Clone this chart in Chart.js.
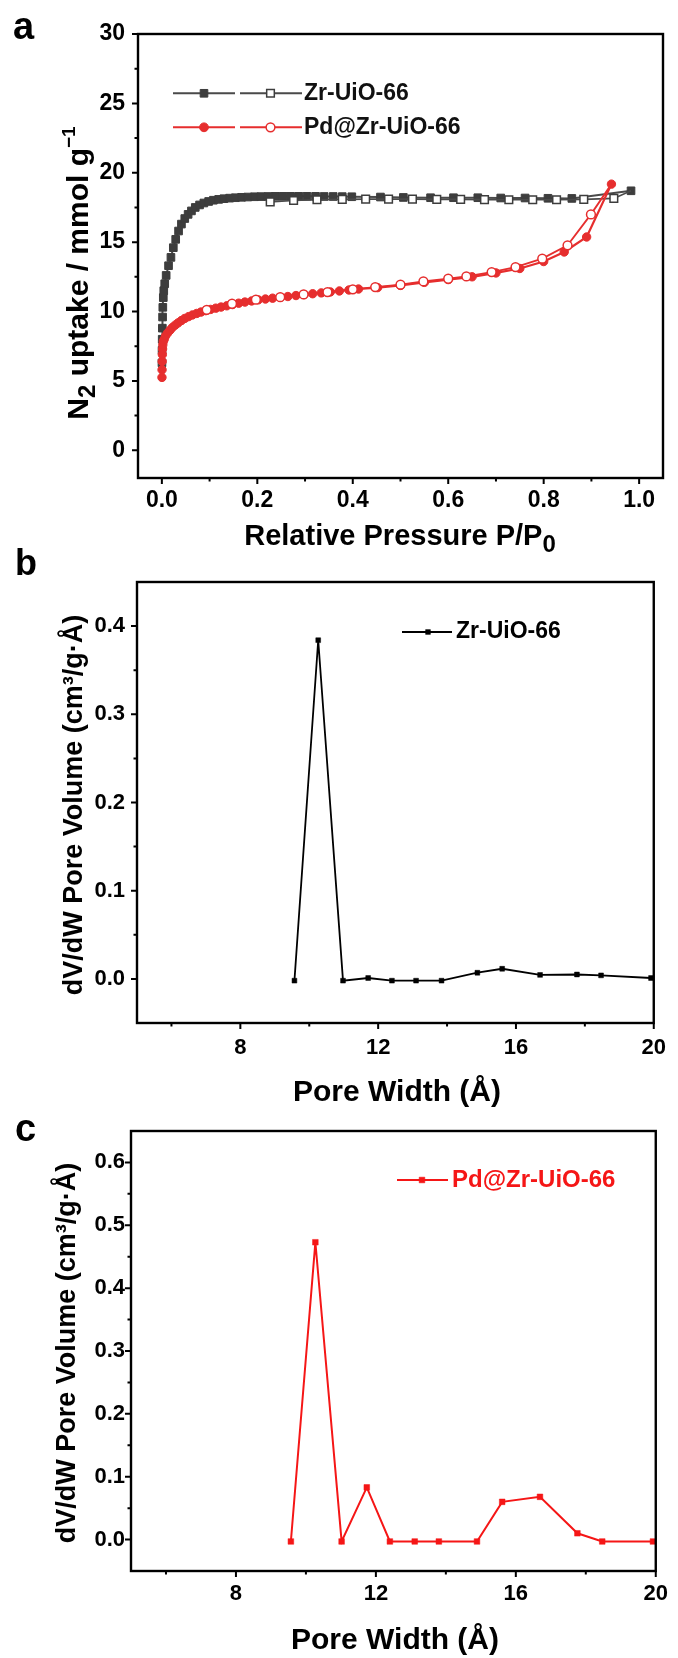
<!DOCTYPE html>
<html><head><meta charset="utf-8">
<script src="https://cdn.jsdelivr.net/npm/chart.js@4.4.1/dist/chart.umd.min.js"></script>
<style>
html,body{margin:0;padding:0;background:#fff;width:678px;height:1658px;overflow:hidden}
canvas{position:absolute;left:0}
</style></head><body>
<canvas id="ca" width="678" height="560" style="top:0px"></canvas>
<canvas id="cb" width="678" height="570" style="top:540px"></canvas>
<canvas id="cc" width="678" height="558" style="top:1100px"></canvas>
<script>
// ---------- DATA ----------
// Panel a: N2 isotherms
const zrAdsP = [0.0002,0.0004,0.0007,0.001,0.0015,0.002,0.003,0.004,0.006,0.009,0.014,0.019,0.024,0.029,0.035,0.041,0.048,0.055,0.062,0.070,0.079,0.088,0.098,0.108,0.119,0.130,0.142,0.154,0.167,0.180,0.194,0.208,0.223,0.238,0.254,0.270,0.287,0.304,0.322,0.340,0.359,0.378,0.398,0.458,0.506,0.563,0.611,0.662,0.710,0.761,0.809,0.859,0.983];
const zrAdsN = [6.3,7.2,8.0,8.8,9.6,10.3,11.0,11.5,12.0,12.6,13.3,13.9,14.6,15.2,15.8,16.3,16.7,17.0,17.25,17.5,17.68,17.82,17.93,18.02,18.08,18.13,18.17,18.2,18.23,18.25,18.27,18.28,18.29,18.3,18.3,18.3,18.3,18.3,18.3,18.29,18.29,18.28,18.27,18.25,18.22,18.2,18.2,18.2,18.18,18.18,18.16,18.15,18.7];
const zrDesP = [0.983,0.947,0.884,0.827,0.777,0.727,0.676,0.626,0.576,0.525,0.475,0.427,0.378,0.325,0.276,0.227];
const zrDesN = [18.7,18.15,18.08,18.05,18.05,18.05,18.06,18.08,18.08,18.1,18.1,18.1,18.08,18.05,18.0,17.9];
const pdAdsP = [0.0002,0.0004,0.0007,0.001,0.0015,0.002,0.003,0.005,0.008,0.012,0.017,0.022,0.028,0.034,0.041,0.048,0.056,0.064,0.073,0.082,0.092,0.102,0.113,0.124,0.136,0.148,0.161,0.174,0.188,0.202,0.217,0.232,0.248,0.264,0.281,0.298,0.316,0.334,0.353,0.372,0.392,0.412,0.452,0.5,0.55,0.6,0.65,0.7,0.75,0.8,0.843,0.89,0.942];
const pdAdsN = [5.25,5.8,6.4,6.9,7.3,7.6,7.85,8.0,8.25,8.45,8.65,8.85,9.02,9.18,9.35,9.5,9.63,9.75,9.86,9.96,10.06,10.15,10.24,10.32,10.41,10.5,10.6,10.68,10.76,10.84,10.9,10.96,11.02,11.08,11.15,11.22,11.28,11.34,11.41,11.48,11.55,11.62,11.72,11.88,12.1,12.3,12.5,12.78,13.1,13.6,14.29,15.37,19.18];
const pdDesP = [0.942,0.899,0.85,0.797,0.741,0.691,0.638,0.6,0.548,0.5,0.447,0.4,0.347,0.297,0.248,0.197,0.147,0.094];
const pdDesN = [19.18,17.0,14.77,13.81,13.2,12.84,12.53,12.36,12.17,11.93,11.76,11.6,11.4,11.23,11.03,10.85,10.56,10.12];
// Panel b: Zr-UiO-66 pore size distribution
const widthB = [9.57,10.26,10.98,11.71,12.40,13.10,13.84,14.88,15.60,16.70,17.77,18.47,19.92];
const volB   = [-0.002,0.384,-0.002,0.001,-0.002,-0.002,-0.002,0.007,0.0115,0.0045,0.005,0.004,0.001];
// Panel c: Pd@Zr-UiO-66 pore size distribution
const widthC = [9.57,10.27,11.02,11.74,12.40,13.11,13.80,14.89,15.61,16.69,17.76,18.47,19.92];
const volC   = [-0.003,0.473,-0.003,0.083,-0.003,-0.003,-0.003,-0.003,0.06,0.068,0.01,-0.003,-0.003];
// Ticks
const xTicksA = [0,0.2,0.4,0.6,0.8,1.0];
const xLabelsA = ['0.0','0.2','0.4','0.6','0.8','1.0'];
const xMinorA = [0.1,0.3,0.5,0.7,0.9];
const yTicksA = [0,5,10,15,20,25,30];
const yLabelsA = ['0','5','10','15','20','25','30'];
const yMinorA = [2.5,7.5,12.5,17.5,22.5,27.5];
const xTicksBC = [8,12,16,20];
const xLabelsBC = ['8','12','16','20'];
const xMinorBC = [6,10,14,18];
const yTicksB = [0,0.1,0.2,0.3,0.4];
const yLabelsB = ['0.0','0.1','0.2','0.3','0.4'];
const yMinorB = [0.05,0.15,0.25,0.35];
const yTicksC = [0,0.1,0.2,0.3,0.4,0.5,0.6];
const yLabelsC = ['0.0','0.1','0.2','0.3','0.4','0.5','0.6'];
const yMinorC = [0.05,0.15,0.25,0.35,0.45,0.55];
// Texts
const seriesZr = 'Zr-UiO-66';
const seriesPd = 'Pd@Zr-UiO-66';

// ---------- STYLE / HELPERS ----------
const FONT = '"Liberation Sans", Arial, Helvetica, sans-serif';
const GRAY = '#3d3d3d', GRAYL = '#4a4a4a', REDA = '#e62e2e', REDC = '#f51616';

function drawRich(ctx, parts, x, y, opt) {
  opt = opt || {};
  ctx.save();
  ctx.translate(x, y);
  if (opt.rotate) ctx.rotate(-Math.PI / 2);
  let w = 0;
  parts.forEach(p => { ctx.font = 'bold ' + p.size + 'px ' + FONT; p.w = ctx.measureText(p.t).width; w += p.w; });
  let cx = opt.align === 'left' ? 0 : -w / 2;
  ctx.textAlign = 'left'; ctx.textBaseline = opt.baseline || 'alphabetic';
  ctx.fillStyle = opt.color || '#000';
  parts.forEach(p => { ctx.font = 'bold ' + p.size + 'px ' + FONT; ctx.fillText(p.t, cx, p.dy || 0); cx += p.w; });
  ctx.restore();
}
function marker(ctx, kind, x, y, r, fill, stroke, lw) {
  ctx.beginPath();
  if (kind === 'rect') { const s = r * Math.SQRT1_2; ctx.rect(x - s, y - s, 2 * s, 2 * s); }
  else ctx.arc(x, y, r, 0, Math.PI * 2);
  ctx.fillStyle = fill; ctx.fill();
  ctx.lineWidth = lw; ctx.strokeStyle = stroke; ctx.stroke();
}
function framePlugin(o) {
  return {
    id: 'frame_' + o.key,
    afterDatasetsDraw(chart) {
      const ctx = chart.ctx, a = chart.chartArea, x = chart.scales.x, y = chart.scales.y;
      ctx.save();
      ctx.strokeStyle = '#000';
      ctx.lineWidth = 2;
      ctx.beginPath();
      o.xMajor.forEach(v => { const p = x.getPixelForValue(v); ctx.moveTo(p, a.bottom); ctx.lineTo(p, a.bottom + 6); });
      o.yMajor.forEach(v => { const p = y.getPixelForValue(v); ctx.moveTo(a.left, p); ctx.lineTo(a.left - 6, p); });
      o.xMinor.forEach(v => { const p = x.getPixelForValue(v); ctx.moveTo(p, a.bottom); ctx.lineTo(p, a.bottom + 3.5); });
      o.yMinor.forEach(v => { const p = y.getPixelForValue(v); ctx.moveTo(a.left, p); ctx.lineTo(a.left - 3.5, p); });
      ctx.stroke();
      ctx.lineWidth = 2.4;
      ctx.strokeRect(a.left, a.top, a.right - a.left, a.bottom - a.top);
      ctx.restore();
      o.extra(chart, ctx);
    }
  };
}
function axisCfg(o) {
  return {
    type: 'linear', min: o.min, max: o.max,
    afterBuildTicks: s => { s.ticks = o.ticks.map(v => ({ value: v })); },
    afterFit: s => { if (o.w !== undefined) s.width = o.w; if (o.h !== undefined) s.height = o.h; },
    ticks: {
      padding: o.pad, color: '#000', autoSkip: false, maxRotation: 0,
      font: { family: FONT, size: o.fs || 22, weight: 'bold' },
      callback: v => o.labels[o.ticks.indexOf(v)]
    },
    grid: { display: false, drawTicks: false },
    border: { display: false },
    title: { display: false }
  };
}
const baseOpts = (pad, xs, ys) => ({
  responsive: false, animation: false, devicePixelRatio: 1,
  layout: { padding: pad },
  plugins: { legend: { display: false }, tooltip: { enabled: false } },
  scales: { x: xs, y: ys }
});
const pts = (xs, ys) => xs.map((v, i) => ({ x: v, y: ys[i] }));

// ---------- PANEL A ----------
new Chart(document.getElementById('ca'), {
  type: 'scatter',
  data: { datasets: [
    { label: seriesZr + ' adsorption', data: pts(zrAdsP, zrAdsN), showLine: true, borderColor: GRAYL, borderWidth: 2,
      pointStyle: 'rect', pointRadius: 5.4, pointBackgroundColor: GRAY, pointBorderColor: GRAY, pointBorderWidth: 1, order: 4 },
    { label: seriesZr + ' desorption', data: pts(zrDesP, zrDesN), showLine: true, borderColor: GRAYL, borderWidth: 1.6,
      pointStyle: 'rect', pointRadius: c => c.dataIndex === 0 ? 0 : 5.4, pointBackgroundColor: '#fff', pointBorderColor: GRAY, pointBorderWidth: 1.5, order: 3 },
    { label: seriesPd + ' adsorption', data: pts(pdAdsP, pdAdsN), showLine: true, borderColor: REDA, borderWidth: 2.2,
      pointStyle: 'circle', pointRadius: 4.2, pointBackgroundColor: REDA, pointBorderColor: REDA, pointBorderWidth: 1, order: 2 },
    { label: seriesPd + ' desorption', data: pts(pdDesP, pdDesN), showLine: true, borderColor: REDA, borderWidth: 1.8,
      pointStyle: 'circle', pointRadius: c => c.dataIndex === 0 ? 0 : 4.4, pointBackgroundColor: '#fff', pointBorderColor: REDA, pointBorderWidth: 1.5, order: 1 }
  ]},
  options: baseOpts({ left: 0, top: 34, right: 15, bottom: 0 },
    axisCfg({ min: -0.05, max: 1.05, ticks: xTicksA, labels: xLabelsA, pad: 9, h: 82, fs: 23 }),
    axisCfg({ min: -2, max: 30, ticks: yTicksA, labels: yLabelsA, pad: 13, w: 138, fs: 23 })),
  plugins: [framePlugin({ key: 'a', xMajor: xTicksA, yMajor: yTicksA, xMinor: xMinorA, yMinor: yMinorA,
    extra: (chart, ctx) => {
      drawRich(ctx, [{ t: 'a', size: 38 }], 13, 39, { align: 'left' });
      drawRich(ctx, [{ t: 'Relative Pressure P/P', size: 29 }, { t: '0', size: 24, dy: 7 }], 400, 545);
      drawRich(ctx, [{ t: 'N', size: 30 }, { t: '2', size: 24, dy: 7 }, { t: ' uptake / mmol g', size: 30 }, { t: '\u22121', size: 19, dy: -13 }], 88, 273, { rotate: true });
      // legend
      const rows = [
        { y: 93.3, kind: 'rect', col: GRAY, line: GRAYL, r: 5.4, text: seriesZr },
        { y: 127.3, kind: 'circle', col: REDA, line: REDA, r: 4.4, text: seriesPd }
      ];
      rows.forEach(rw => {
        ctx.save();
        ctx.strokeStyle = rw.line; ctx.lineWidth = 2;
        ctx.beginPath(); ctx.moveTo(173, rw.y); ctx.lineTo(235, rw.y); ctx.moveTo(240, rw.y); ctx.lineTo(302, rw.y); ctx.stroke();
        marker(ctx, rw.kind, 204, rw.y, rw.r, rw.col, rw.col, 1);
        marker(ctx, rw.kind, 270.5, rw.y, rw.r, '#fff', rw.col, 1.5);
        ctx.restore();
        drawRich(ctx, [{ t: rw.text, size: 23 }], 304, rw.y, { align: 'left', baseline: 'middle', color: '#111' });
      });
    } })]
});

// ---------- PANEL B ----------
new Chart(document.getElementById('cb'), {
  type: 'scatter',
  data: { datasets: [
    { label: seriesZr, data: pts(widthB, volB), showLine: true, borderColor: '#000', borderWidth: 1.8,
      pointStyle: 'rect', pointRadius: 3.4, pointBackgroundColor: '#000', pointBorderColor: '#000', pointBorderWidth: 0.5 }
  ]},
  options: baseOpts({ left: 0, top: 42, right: 17, bottom: 0 },
    axisCfg({ min: 5, max: 20, ticks: xTicksBC, labels: xLabelsBC, pad: 12, h: 87 }),
    axisCfg({ min: -0.05, max: 0.45, ticks: yTicksB, labels: yLabelsB, pad: 12, w: 137 })),
  plugins: [framePlugin({ key: 'b', xMajor: xTicksBC, yMajor: yTicksB, xMinor: xMinorBC, yMinor: yMinorB,
    extra: (chart, ctx) => {
      drawRich(ctx, [{ t: 'b', size: 36 }], 15, 35, { align: 'left' });
      drawRich(ctx, [{ t: 'Pore Width (\u00C5)', size: 30 }], 397, 561);
      drawRich(ctx, [{ t: 'dV/dW Pore Volume (cm\u00B3/g\u00B7\u00C5)', size: 27 }], 82, 265, { rotate: true });
      ctx.save();
      ctx.strokeStyle = '#000'; ctx.lineWidth = 1.8;
      ctx.beginPath(); ctx.moveTo(402, 92); ctx.lineTo(452, 92); ctx.stroke();
      marker(ctx, 'rect', 428, 92, 3.4, '#000', '#000', 0.5);
      ctx.restore();
      drawRich(ctx, [{ t: seriesZr, size: 23 }], 456, 92, { align: 'left', baseline: 'middle', color: '#000' });
    } })]
});

// ---------- PANEL C ----------
new Chart(document.getElementById('cc'), {
  type: 'scatter',
  data: { datasets: [
    { label: seriesPd, data: pts(widthC, volC), showLine: true, borderColor: REDC, borderWidth: 2,
      pointStyle: 'rect', pointRadius: 4, pointBackgroundColor: REDC, pointBorderColor: REDC, pointBorderWidth: 0.5 }
  ]},
  options: baseOpts({ left: 0, top: 31, right: 22, bottom: 0 },
    axisCfg({ min: 5, max: 20, ticks: xTicksBC, labels: xLabelsBC, pad: 10, h: 87 }),
    axisCfg({ min: -0.05, max: 0.65, ticks: yTicksC, labels: yLabelsC, pad: 6, w: 131 })),
  plugins: [framePlugin({ key: 'c', xMajor: xTicksBC, yMajor: yTicksC, xMinor: xMinorBC, yMinor: yMinorC,
    extra: (chart, ctx) => {
      drawRich(ctx, [{ t: 'c', size: 38 }], 15, 41, { align: 'left' });
      drawRich(ctx, [{ t: 'Pore Width (\u00C5)', size: 30 }], 395, 549);
      drawRich(ctx, [{ t: 'dV/dW Pore Volume (cm\u00B3/g\u00B7\u00C5)', size: 27 }], 75, 253, { rotate: true });
      ctx.save();
      ctx.strokeStyle = REDC; ctx.lineWidth = 2;
      ctx.beginPath(); ctx.moveTo(397, 80); ctx.lineTo(448, 80); ctx.stroke();
      marker(ctx, 'rect', 422, 80, 4, REDC, REDC, 0.5);
      ctx.restore();
      drawRich(ctx, [{ t: seriesPd, size: 24 }], 452, 80, { align: 'left', baseline: 'middle', color: REDC });
    } })]
});
</script>
</body></html>
